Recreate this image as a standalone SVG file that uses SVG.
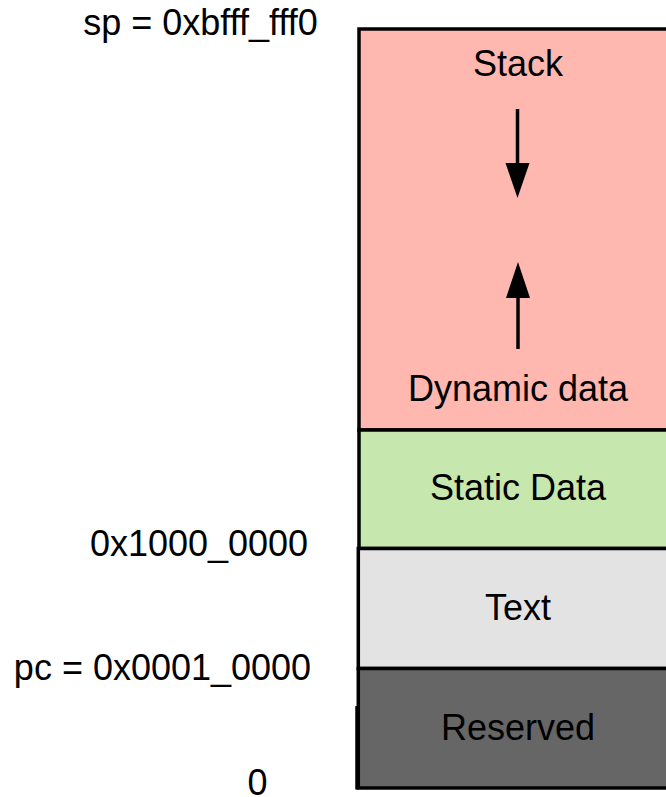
<svg xmlns="http://www.w3.org/2000/svg" width="666" height="797" viewBox="0 0 666 797">
<style>
text{font-family:"Liberation Sans",Arial,sans-serif;font-size:36px;fill:#000}
.c{text-anchor:middle}
.box{stroke:#000;stroke-width:3.5}
.arr{stroke:#000;stroke-width:3.5;fill:none}
</style>
<rect width="666" height="797" fill="#fff"/>
<g id="labels">
<text class="c" x="200.5" y="35">sp = 0xbfff_fff0</text>
<text class="c" x="199" y="556">0x1000_0000</text>
<text class="c" x="162.5" y="680">pc = 0x0001_0000</text>
<text class="c" x="257.5" y="795">0</text>
</g>
<g id="stack">
<rect class="box" x="359" y="29" width="340" height="401" fill="#ffb8b0"/>
<text class="c" x="518" y="76">Stack</text>
<text class="c" x="518" y="401">Dynamic data</text>
</g>
<g id="static">
<rect class="box" x="359" y="430" width="340" height="118.5" fill="#c6e7ad"/>
<text class="c" x="518" y="500">Static Data</text>
</g>
<g id="text">
<rect class="box" x="358.3" y="548.5" width="340" height="120" fill="#e3e3e3"/>
<text class="c" x="518" y="620">Text</text>
</g>
<g id="reserved">
<rect class="box" x="358.3" y="668.5" width="340" height="119.5" fill="#666666"/>
<line class="box" x1="357" y1="706" x2="357" y2="789.5"/>
<text class="c" x="518" y="740">Reserved</text>
</g>
<g id="connectors">
<line class="arr" x1="517.5" y1="109" x2="517.5" y2="164"/>
<polygon points="505.5,163 529.5,163 517.5,198" fill="#000"/>
<line class="arr" x1="518" y1="349" x2="518" y2="297"/>
<polygon points="506,298 530,298 518,262" fill="#000"/>
</g>
</svg>
